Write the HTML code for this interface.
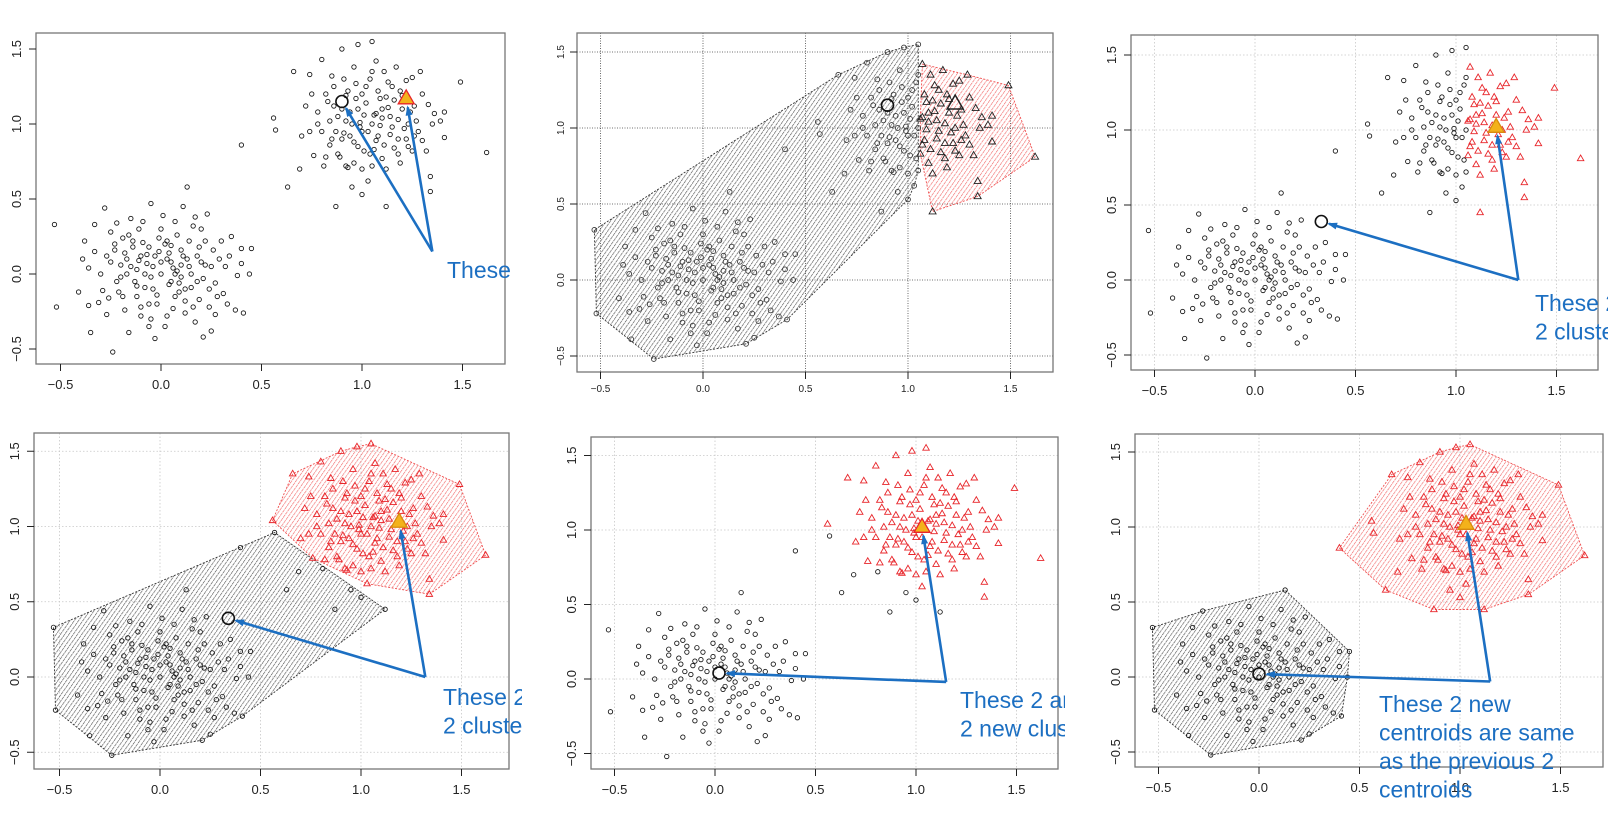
<!DOCTYPE html>
<html><head><meta charset="utf-8"><style>
html,body{margin:0;padding:0;background:#fff;}
svg{display:block;font-family:"Liberation Sans",Arial,sans-serif;}
</style></head><body>
<svg id="chart" width="1608" height="816" viewBox="0 0 1608 816" xmlns="http://www.w3.org/2000/svg">
<defs>
<pattern id="hatchK" patternUnits="userSpaceOnUse" width="3.5" height="4" patternTransform="rotate(35)"><line x1="0" y1="0" x2="0" y2="4" stroke="#444" stroke-width="1.3" stroke-dasharray="1.5,0.7"/></pattern>
<pattern id="hatchR" patternUnits="userSpaceOnUse" width="3.5" height="4" patternTransform="rotate(35)"><line x1="0" y1="0" x2="0" y2="4" stroke="#f05a5a" stroke-width="1.3" stroke-dasharray="1.5,0.7"/></pattern>
</defs>
</svg>
<script>
// ---- data ----
const clusterA = [[-0.53,0.33],[-0.52,-0.22],[-0.41,-0.12],[-0.39,0.10],[-0.38,0.22],[-0.36,0.04],[-0.36,-0.21],[-0.35,-0.39],[-0.33,0.33],[-0.31,-0.19],[-0.29,-0.11],[-0.28,0.44],[-0.27,0.12],[-0.26,-0.16],[-0.25,0.28],[-0.24,-0.52],[-0.23,0.16],[-0.22,0.34],[-0.21,-0.12],[-0.2,0.06],[-0.19,0.24],[-0.18,-0.24],[-0.17,0.1],[-0.16,-0.39],[-0.15,0.37],[-0.14,0.18],[-0.13,-0.05],[-0.12,0.03],[-0.11,0.3],[-0.1,-0.28],[-0.09,0.21],[-0.08,-0.09],[-0.07,0.13],[-0.06,-0.2],[-0.05,0.47],[-0.04,0.05],[-0.03,-0.43],[-0.02,-0.14],[-0.01,0.24],[0.0,0.0],[0.01,0.39],[0.02,-0.35],[0.03,0.1],[0.04,-0.07],[0.05,0.19],[0.06,-0.23],[0.07,0.35],[0.08,0.02],[0.09,-0.12],[0.1,0.16],[0.11,0.45],[0.12,-0.26],[0.13,0.58],[0.14,0.05],[0.15,-0.09],[0.16,0.32],[0.17,-0.32],[0.18,0.12],[0.19,-0.17],[0.2,0.3],[0.21,-0.42],[0.22,0.06],[0.23,0.4],[0.24,-0.22],[0.25,-0.38],[0.26,0.16],[0.27,-0.06],[0.29,0.1],[0.3,0.22],[0.31,-0.13],[0.34,0.12],[0.37,-0.24],[0.38,-0.01],[0.4,0.17],[0.41,-0.26],[0.44,0.0],[0.45,0.17],[0.4,0.07],[-0.12,-0.15],[0.05,0.08],[-0.03,0.12],[0.1,-0.02],[0.02,0.2],[-0.08,0.0],[0.13,0.1],[0.07,-0.15],[-0.18,0.14],[0.18,-0.05],[-0.22,-0.05],[0.33,-0.2],[-0.05,-0.3],[0.22,0.22],
[-0.15,0.05],[-0.1,0.12],[-0.05,-0.02],[0.0,0.08],[0.05,-0.05],[0.1,0.06],[0.15,0.0],[-0.12,-0.08],[-0.06,0.18],[0.04,0.14],[0.12,-0.1],[0.2,0.08],[-0.2,-0.02],[-0.25,0.08],[0.25,0.05],[-0.02,-0.2],[0.08,0.26],[-0.16,0.26],[0.16,-0.22],[-0.1,-0.22],[0.28,-0.15],[-0.3,0.0],[0.0,0.3],[0.03,-0.28],[-0.07,0.07],[0.09,-0.06],[0.19,0.18],[-0.19,-0.15],[0.14,0.22],[-0.14,0.22],[0.32,0.05],[-0.33,0.15],[0.06,0.04],[-0.04,-0.1],[0.11,0.12],[-0.23,0.2],[0.24,-0.1],[-0.09,0.35],[0.17,0.38],[-0.27,-0.27],[0.27,-0.27],[0.35,0.25],[-0.01,0.15],[0.12,-0.18],[-0.17,0.0],[0.07,0.0],[-0.11,0.09],[0.21,-0.03],[0.03,0.22],[-0.06,-0.35]];
const clusterB = [[0.57,0.96],[0.56,1.04],[0.63,0.58],[0.66,1.35],[0.69,0.7],[0.7,0.92],[0.72,1.12],[0.74,1.33],[0.76,0.79],[0.78,1.0],[0.8,1.43],[0.81,0.72],[0.82,1.2],[0.84,0.86],[0.85,1.32],[0.87,0.45],[0.88,1.05],[0.89,0.78],[0.9,1.5],[0.91,0.94],[0.92,1.19],[0.93,0.71],[0.94,1.08],[0.95,0.58],[0.96,0.88],[0.97,1.27],[0.98,1.53],[0.99,1.01],[1.0,0.53],[1.01,0.82],[1.02,1.14],[1.03,0.95],[1.04,1.3],[1.05,1.55],[1.05,0.72],[1.06,1.06],[1.07,0.89],[1.08,1.22],[1.09,0.99],[1.1,0.77],[1.11,1.35],[1.12,0.45],[1.13,1.11],[1.14,0.93],[1.15,1.25],[1.16,0.84],[1.17,1.38],[1.18,1.03],[1.19,0.74],[1.2,1.19],[1.21,0.97],[1.22,1.29],[1.23,0.85],[1.24,1.08],[1.25,1.31],[1.26,0.92],[1.27,1.02],[1.29,1.35],[1.3,0.89],[1.33,1.13],[1.34,0.65],[1.34,0.55],[1.36,1.07],[1.39,1.02],[1.41,0.91],[1.41,1.08],[1.49,1.28],[1.62,0.81],[0.4,0.86],[0.92,1.02],[1.0,1.2],[0.86,1.12],[1.1,1.04],[0.96,0.74],[1.06,0.83],[0.9,0.9],[1.12,1.18],[0.98,1.1],[0.84,1.02],[1.18,0.9],
[0.95,1.0],[1.0,0.95],[1.05,1.0],[1.1,1.1],[0.9,1.1],[1.15,0.98],[0.98,0.85],[1.08,0.92],[0.93,1.22],[1.13,1.28],[0.87,0.95],[1.2,1.1],[1.02,1.25],[0.96,1.38],[1.07,1.42],[0.83,1.15],[1.25,0.82],[1.18,0.8],[0.88,0.8],[1.0,0.7],[1.12,0.7],[0.78,1.08],[1.3,1.2],[1.28,0.95],[0.92,0.72],[1.04,0.8],[1.16,1.16],[0.97,1.17],[1.09,1.17],[0.85,0.9],[1.22,0.9],[1.01,1.06],[0.94,0.92],[1.14,1.05],[0.8,0.95],[1.35,1.0],[1.32,0.82],[0.75,1.2],[1.05,1.35],[0.99,0.98],[1.07,1.07],[1.19,1.22],[0.91,1.3],[1.23,1.0],[0.86,1.25],[1.11,0.86],[1.26,1.12],[0.82,0.78],[1.03,0.62],[0.74,0.95]];
const tickValues = [-0.5, 0.0, 0.5, 1.0, 1.5];
const tickLabels = ["-0.5", "0.0", "0.5", "1.0", "1.5"];
const centroidCircle = [[0.9,1.15],[0.9,1.15],[0.33,0.39],[0.34,0.39],[0.02,0.04],[0.0,0.02]];
const centroidTriangle = [[1.22,1.17],[1.23,1.16],[1.2,1.02],[1.19,1.03],[1.03,1.02],[1.03,1.02]];
const arrowBase = [[1.35,0.15],null,[1.31,0.0],[1.32,0.0],[1.15,-0.02],[1.15,-0.03]];
const noteLines = [["These 2"],[],["These 2","2 cluste"],["These 2","2 cluste"],["These 2 ar","2 new clus"],["These 2 new","centroids are same","as the previous 2","centroids"]];

// ---- layout ----
const panels = [
 {L:36,R:505,T:33,B:364,x0:161,ux:201,y0:274,uy:150,grid:'none',hull:false,text:[447,278],clip:510,fs:13},
 {L:577,R:1053,T:33,B:372,x0:703,ux:205,y0:280,uy:152,grid:'dark',hull:true,fs:10},
 {L:1131,R:1598,T:35,B:370,x0:1255,ux:201,y0:280,uy:150,grid:'light',hull:false,text:[1535,311],clip:1608,fs:13},
 {L:34,R:509,T:433,B:769,x0:160,ux:201,y0:677,uy:150.5,grid:'light',hull:true,text:[443,705],clip:522,fs:13},
 {L:591,R:1058,T:437,B:769,x0:715,ux:201,y0:679,uy:149,grid:'light',hull:false,text:[960,708],clip:1065,fs:13},
 {L:1135,R:1603,T:434,B:767,x0:1259,ux:201,y0:677,uy:150,grid:'light',hull:true,text:[1379,712],clip:1608,fs:13}
];
const labelRules = [
 p=>0,
 p=>p[0]>1.05?1:0,
 (p,b)=>(b&&p[0]>1.05)?1:0,
 (p,b)=>(b&&p[1]>0.5&&(p[0]-0.1+p[1])>1.44)?1:0,
 (p,b)=>(b&&p[1]>0.5&&(p[0]-0.1+p[1])>1.44)?1:0,
 (p,b)=>(b&&(p[1]>0.6||p[0]>0.6))?1:0
];
const NS="http://www.w3.org/2000/svg";
const svg=document.getElementById('chart');
function el(tag,attrs,parent){const e=document.createElementNS(NS,tag);for(const k in attrs)e.setAttribute(k,attrs[k]);(parent||svg).appendChild(e);return e;}
function hull(pts){const P=pts.slice().sort((a,b)=>a[0]-b[0]||a[1]-b[1]);const cr=(o,a,b)=>(a[0]-o[0])*(b[1]-o[1])-(a[1]-o[1])*(b[0]-o[0]);const lo=[],up=[];for(const p of P){while(lo.length>=2&&cr(lo[lo.length-2],lo[lo.length-1],p)<=0)lo.pop();lo.push(p);}for(let i=P.length-1;i>=0;i--){const p=P[i];while(up.length>=2&&cr(up[up.length-2],up[up.length-1],p)<=0)up.pop();up.push(p);}up.pop();lo.pop();return lo.concat(up);}
function tri(g,x,y,s,attrs){const h=s*0.87;return el('polygon',Object.assign({points:`${x},${y-h*0.62} ${x-s/2},${y+h*0.38} ${x+s/2},${y+h*0.38}`},attrs),g);}

panels.forEach((c,i)=>{
 const sx=v=>c.x0+v*c.ux, sy=v=>c.y0-v*c.uy;
 const g=el('g',{});
 
 
 const cid='clip'+i;
 const cp=el('clipPath',{id:cid},g); el('rect',{x:c.L,y:c.T,width:c.R-c.L,height:c.B-c.T},cp);
 if(c.grid!=='none'){
  tickValues.forEach(v=>{
   const col=c.grid==='dark'?'#444':'#c8c8c8', da=c.grid==='dark'?'1,1.5':'1.5,2';
   const gl=el('line',{x1:sx(v),x2:sx(v),y1:c.T,y2:c.B,stroke:col,'stroke-width':0.8,'stroke-dasharray':da},g);
   
   
   const gl2=el('line',{x1:c.L,x2:c.R,y1:sy(v),y2:sy(v),stroke:col,'stroke-width':0.8,'stroke-dasharray':da},g);
   
   
  });
 }
 const all=clusterA.map(p=>[p,false]).concat(clusterB.map(p=>[p,true]));
 const lab=all.map(([p,b])=>labelRules[i](p,b));
 const pg=el('g',{'clip-path':`url(#${cid})`},g);
 if(c.hull){
  [0,1].forEach(k=>{
   const pts=all.filter((d,j)=>lab[j]===k).map(d=>d[0]);
   const h=hull(pts);
   const poly=el('polygon',{points:h.map(p=>sx(p[0])+','+sy(p[1])).join(' '),fill:k?'url(#hatchR)':'url(#hatchK)',stroke:k?'#f05050':'#333','stroke-width':0.9,'stroke-dasharray':'2,1.5'},pg);
   
   
  });
 }
 all.forEach(([p,b],j)=>{
  let m;
  if(lab[j]===1){
   const col=(i===1)?'#222':'#e8252a';
   m=tri(pg,sx(p[0]),sy(p[1]),(i===1)?7:6.5,{fill:'none',stroke:col,'stroke-width':0.9});
  } else {
   m=el('circle',{cx:sx(p[0]),cy:sy(p[1]),r:(i===1)?2.4:2.2,fill:'none',stroke:(i===1)?'#333':'#111','stroke-width':0.85},pg);
  }
  
  
 });
 const cc=centroidCircle[i], ct=centroidTriangle[i];
 const c1=el('circle',{cx:sx(cc[0]),cy:sy(cc[1]),r:6,fill:'none',stroke:'#111','stroke-width':1.6},g);
 
 
 let c2;
 if(i===1){ c2=tri(g,sx(ct[0]),sy(ct[1]),16,{fill:'none',stroke:'#222','stroke-width':1.5}); }
 else { c2=tri(g,sx(ct[0]),sy(ct[1]),16,{fill:'#f3b21b',stroke:(i===0||i===4)?'#e8252a':'#d88a10','stroke-width':1.3}); }
 
 
 const ab=arrowBase[i];
 if(ab){
  [cc,ct].forEach((tgt,k)=>{
   const x1=sx(ab[0]),y1=sy(ab[1]);let x2=sx(tgt[0]),y2=sy(tgt[1]);
   const dx=x2-x1,dy=y2-y1,len=Math.hypot(dx,dy),ux=dx/len,uy=dy/len;
   x2-=ux*(k===0?8:9);y2-=uy*(k===0?8:9);
   const ln=el('line',{x1,y1,x2,y2,stroke:'#1c6fc2','stroke-width':2.6},g);
   
   
   const hx=x2,hy=y2,bx=hx-ux*8,by=hy-uy*8;
   const ah=el('polygon',{points:`${hx+ux*2},${hy+uy*2} ${bx-uy*3.5},${by+ux*3.5} ${bx+uy*3.5},${by-ux*3.5}`,fill:'#1c6fc2'},g);
   
   
  });
 }
 const fr=el('rect',{x:c.L,y:c.T,width:c.R-c.L,height:c.B-c.T,fill:'none',stroke:'#777','stroke-width':1.3},g);
 
 
 tickValues.forEach((v,k)=>{
  const t=el('line',{x1:sx(v),x2:sx(v),y1:c.B,y2:c.B+7,stroke:'#222','stroke-width':1},g);
  
  
  const tl=el('text',{x:sx(v),y:c.B+(i===1?20:25),'text-anchor':'middle','font-size':c.fs,fill:'#222'},g);
  tl.textContent=tickLabels[k].replace('-','\u2212');
  
  
  const ty=el('line',{x1:c.L-7,x2:c.L,y1:sy(v),y2:sy(v),stroke:'#222','stroke-width':1},g);
  
  
  const lx=c.L-(i===1?13:15);
  const yl=el('text',{x:lx,y:sy(v),'text-anchor':'middle','font-size':c.fs,fill:'#222',transform:`rotate(-90 ${lx} ${sy(v)})`},g);
  yl.textContent=tickLabels[k].replace('-','\u2212');
  
  
 });
 if(c.text){
  const tc='tclip'+i;
  const cp2=el('clipPath',{id:tc},g); el('rect',{x:c.text[0]-5,y:0,width:c.clip-c.text[0]+5,height:816},cp2);
  const tg=el('g',{'clip-path':`url(#${tc})`},g);
  noteLines[i].forEach((s,k)=>{
   const t=el('text',{x:c.text[0],y:c.text[1]+k*28.5,'font-size':23,fill:'#1c6fc2'},tg);
   t.textContent=s;
   
   
  });
 }
});
</script>
</body></html>
